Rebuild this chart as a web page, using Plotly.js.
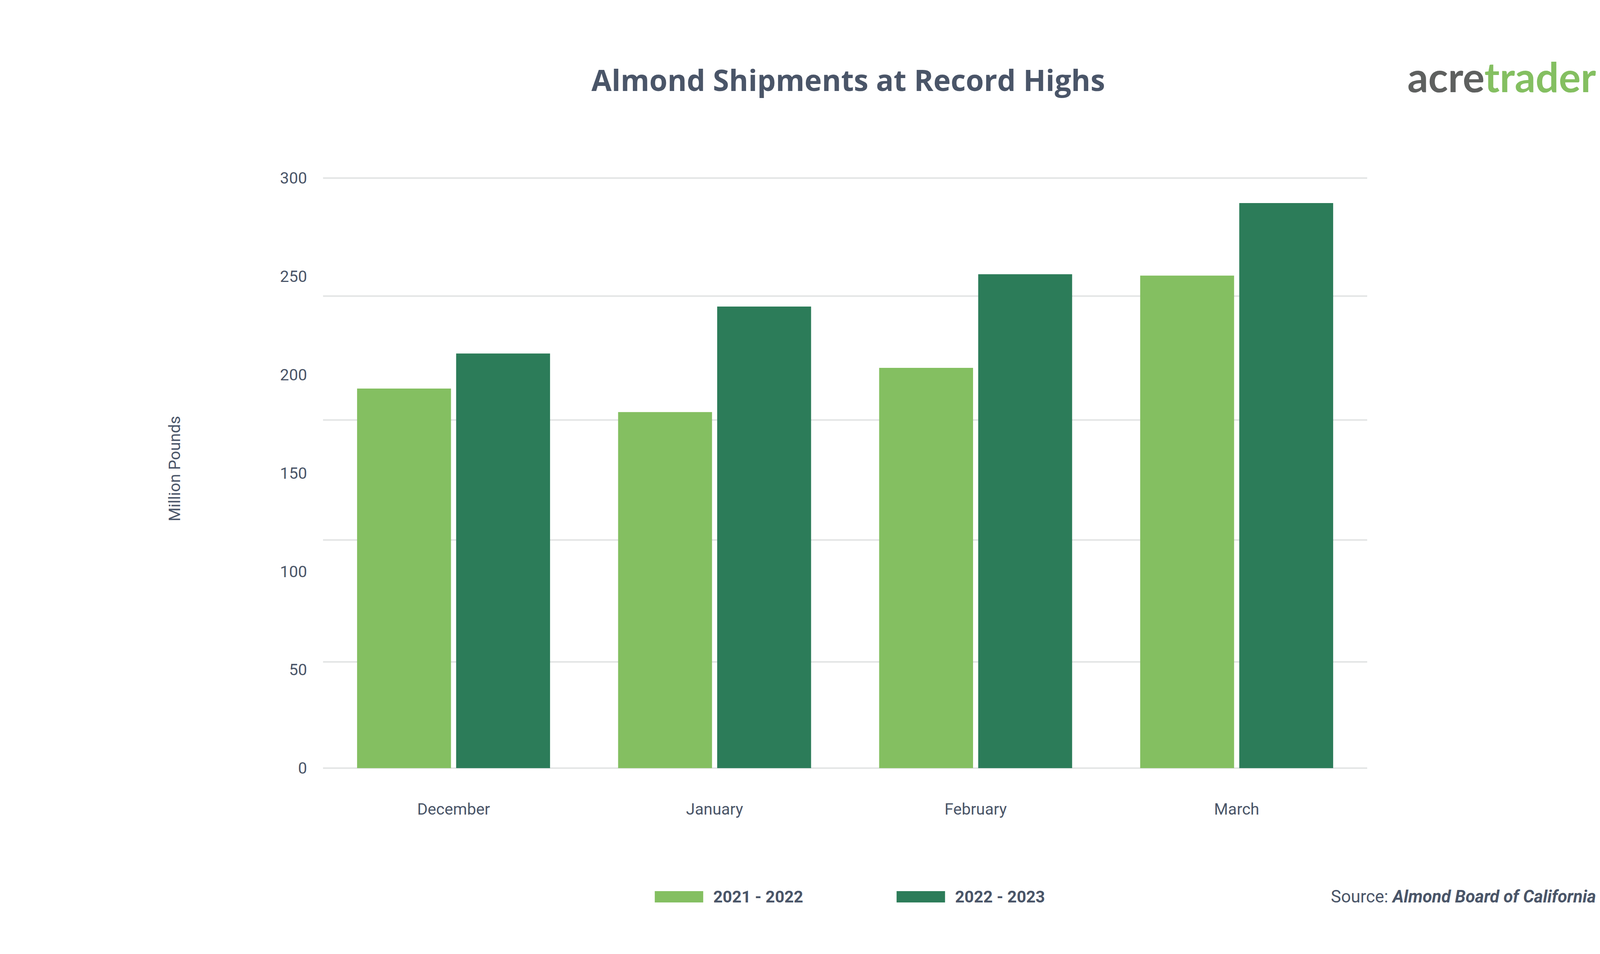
<!DOCTYPE html>
<html>
<head>
<meta charset="utf-8">
<script src="https://cdn.plot.ly/plotly-3.0.1.min.js"></script>
<style>
  body { margin: 0; background: #ffffff; }
  #chart { width: 4343px; height: 2443px; }
</style>
</head>
<body>
<div id="chart"></div>
<script>
// data
let months = ["December", "January", "February", "March"];
let season_names = ["2021 - 2022", "2022 - 2023"];
let shipments_2122 = [193, 181, 203.5, 250.4];
let shipments_2223 = [210.8, 234.7, 251.1, 287.3];
let y_tick_values = [0, 50, 100, 150, 200, 250, 300];
let grid_values = [0, 54, 116, 177, 240, 300];

const light_green = "#84bf61";
const dark_green = "#2c7c59";
const text_color = "#4a5568";
const grid_color = "#e3e5e5";

let first = {
    x: months,
    y: shipments_2122,
    type: "bar",
    name: season_names[0],
    marker: {color: light_green},
    hoverinfo: "skip"
};

let second = {
    x: months,
    y: shipments_2223,
    type: "bar",
    name: season_names[1],
    marker: {color: dark_green},
    hoverinfo: "skip"
};

// the grid in the original does not sit on the tick labels, so it is drawn apart
let grid_shapes = grid_values.map(function(v) {
    return {type: "line", xref: "paper", yref: "y", x0: 0, x1: 1, y0: v, y1: v,
            layer: "below", line: {color: grid_color, width: 4}};
});

// legend drawn by hand, the built in bar swatch is too small
let legend_shapes = [
    {type: "rect", xref: "paper", yref: "paper", x0: 0.3177, x1: 0.3641, y0: -0.2229, y1: -0.2038,
     fillcolor: light_green, line: {width: 0}},
    {type: "rect", xref: "paper", yref: "paper", x0: 0.5493, x1: 0.5957, y0: -0.2229, y1: -0.2038,
     fillcolor: dark_green, line: {width: 0}}
];

let notes = [
    {text: season_names[0], xref: "paper", yref: "paper", x: 0.3731, y: -0.2133,
     xanchor: "left", yanchor: "middle", showarrow: false,
     font: {family: "Roboto", size: 42, color: text_color, weight: 700}},
    {text: season_names[1], xref: "paper", yref: "paper", x: 0.6047, y: -0.2133,
     xanchor: "left", yanchor: "middle", showarrow: false,
     font: {family: "Roboto", size: 42, color: text_color, weight: 700}},
    {text: "Source: <b><i>Almond Board of California</i></b>", xref: "paper", yref: "paper",
     x: 1.22, y: -0.2133, xanchor: "right", yanchor: "middle", showarrow: false,
     font: {family: "Roboto", size: 44, color: text_color}},
    {text: "Million Pounds", xref: "paper", yref: "paper", x: -0.142, y: 0.5076,
     xanchor: "center", yanchor: "middle", textangle: -90, showarrow: false,
     font: {family: "Roboto", size: 41, color: text_color}},
    {text: "acre<span style='color:#84bf61'>trader</span>", xref: "paper", yref: "paper",
     x: 1.22, y: 1.168, xanchor: "right", yanchor: "middle", showarrow: false,
     font: {family: "Lato", size: 105, color: "#5e605f", weight: 700}}
];

let layout = {
    width: 4343,
    height: 2443,
    paper_bgcolor: "#ffffff",
    plot_bgcolor: "#ffffff",
    margin: {l: 827, r: 843, t: 451, b: 471},
    showlegend: false,
    bargap: 0.241,
    bargroupgap: 0.052,
    title: {
        text: "Almond Shipments at Record Highs",
        x: 0.5, xref: "container", xanchor: "center",
        y: 0.9153, yref: "container", yanchor: "middle",
        font: {family: "Open Sans", size: 75, color: text_color, weight: 700}
    },
    xaxis: {
        type: "category",
        showgrid: false,
        showline: false,
        zeroline: false,
        ticks: "",
        ticklabelstandoff: 72,
        tickfont: {family: "Roboto", size: 41, color: text_color}
    },
    yaxis: {
        range: [-1, 301],
        tickvals: y_tick_values,
        showgrid: false,
        zeroline: false,
        showline: false,
        ticks: "",
        ticklabelstandoff: 40,
        tickfont: {family: "Roboto", size: 41, color: text_color},
        fixedrange: true
    },
    shapes: grid_shapes.concat(legend_shapes),
    annotations: notes
};

Plotly.newPlot("chart", [first, second], layout, {displayModeBar: false, staticPlot: true});
</script>
</body>
</html>
